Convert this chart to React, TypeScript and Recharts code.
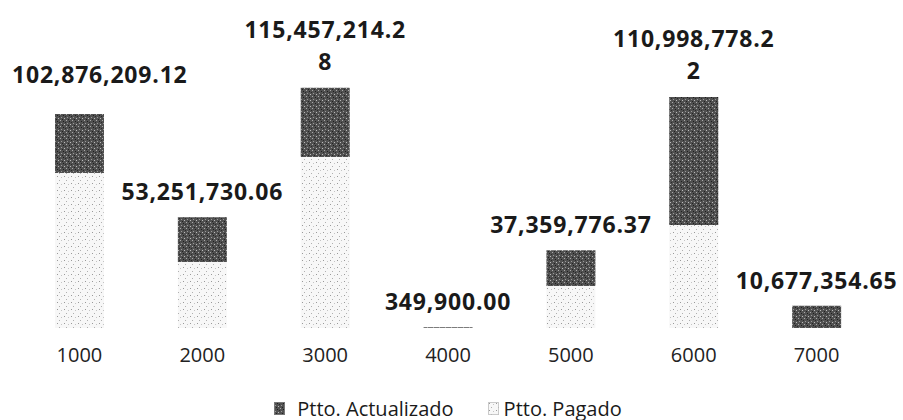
import React from 'react';
import { BarChart, Bar, XAxis, YAxis, Legend, LabelList } from 'recharts';

const categories = ['1000', '2000', '3000', '4000', '5000', '6000', '7000'];
const actualizado = [
  102876209.12, 53251730.06, 115457214.28, 349900.0, 37359776.37, 110998778.22, 10677354.65,
];
const pagado = [74500000, 31700000, 82200000, 0, 20200000, 49500000, 0];

const seriesNames = ['Ptto. Actualizado', 'Ptto. Pagado'];

const data = categories.map((name, i) => ({
  name,
  pagado: pagado[i],
  resto: actualizado[i] - pagado[i],
  actualizado: actualizado[i],
}));

const fmt = (v: number) =>
  v.toLocaleString('en-US', { minimumFractionDigits: 2, maximumFractionDigits: 2 });

const LABEL_FONT = 23;

const renderLabel = (props: any) => {
  const { x, y, width, value } = props;
  const text = fmt(Number(value));
  const cx = Number(x) + Number(width) / 2;
  const top = Number(y);
  const approxW = text.length * LABEL_FONT * 0.5;
  const common = {
    fontFamily: 'Open Sans',
    fontWeight: 700,
    fontSize: LABEL_FONT,
    letterSpacing: 0.8,
    fill: '#1a1a1a',
    dominantBaseline: 'central' as const,
  };

  // pushed right (and up) when it would run off the left edge, like excel does
  if (cx - approxW / 2 < 8) {
    return (
      <text x={12} y={top - 40} textAnchor="start" {...common}>
        {text}
      </text>
    );
  }
  if (text.length > 13) {
    return (
      <text x={cx} textAnchor="middle" {...common}>
        <tspan x={cx} y={top - 59}>{text.slice(0, 13)}</tspan>
        <tspan x={cx} y={top - 27}>{text.slice(13)}</tspan>
      </text>
    );
  }
  return (
    <text x={cx} y={top - 26} textAnchor="middle" {...common}>
      {text}
    </text>
  );
};

const renderLegend = () => (
  <div
    style={{
      display: 'flex',
      justifyContent: 'center',
      alignItems: 'center',
      height: 24,
      fontFamily: 'Open Sans',
      fontSize: 20,
      color: '#1a1a1a',
    }}
  >
    {seriesNames.map((n, i) => (
      <span key={n} style={{ display: 'flex', alignItems: 'center', marginRight: i === 0 ? 34 : 0 }}>
        <svg width={12} height={13} style={{ marginRight: i === 0 ? 11 : 4 }}>
          <rect
            x={0.5}
            y={0.5}
            width={10}
            height={12}
            fill={i === 0 ? 'url(#darkDots)' : 'url(#lightDots)'}
            stroke={i === 0 ? '#777' : '#999'}
            strokeDasharray={i === 0 ? undefined : '1 1'}
          />
        </svg>
        {n}
      </span>
    ))}
  </div>
);

export default function App() {
  return (
    <div style={{ position: 'absolute', left: 0, top: 0, background: '#fff' }}>
      <BarChart
        width={903}
        height={420}
        data={data}
        margin={{ top: 16, right: 25, left: 18, bottom: 0 }}
      >
        <defs>
          <pattern id="darkDots" width={6} height={6} patternUnits="userSpaceOnUse">
            <rect width={6} height={6} fill="#505050" />
            <rect x={0} y={0} width={1} height={1} fill="#aaa" />
            <rect x={3} y={1} width={1} height={1} fill="#1e1e1e" />
            <rect x={1} y={3} width={1} height={1} fill="#999" />
            <rect x={4} y={4} width={1} height={1} fill="#bbb" />
            <rect x={5} y={2} width={1} height={1} fill="#2a2a2a" />
            <rect x={2} y={5} width={1} height={1} fill="#222" />
          </pattern>
          <pattern id="lightDots" width={7} height={7} patternUnits="userSpaceOnUse">
            <rect width={7} height={7} fill="#f7f7f7" />
            <rect x={1} y={1} width={1} height={1} fill="#999" />
            <rect x={5} y={2} width={1} height={1} fill="#c4c4c4" />
            <rect x={3} y={5} width={1} height={1} fill="#b0b0b0" />
          </pattern>
        </defs>
        <XAxis
          dataKey="name"
          axisLine={false}
          tickLine={false}
          tickMargin={14}
          interval={0}
          height={68}
          tick={{ fill: '#222', fontSize: 20, fontFamily: 'Open Sans' }}
        />
        <YAxis hide domain={[0, 150000000]} />
        <Legend verticalAlign="bottom" content={renderLegend} />
        <Bar
          dataKey="pagado"
          name={seriesNames[1]}
          stackId="a"
          barSize={49}
          fill="url(#lightDots)"
          isAnimationActive={false}
        />
        <Bar
          dataKey="resto"
          name={seriesNames[0]}
          stackId="a"
          barSize={49}
          fill="url(#darkDots)"
          isAnimationActive={false}
        >
          <LabelList dataKey="actualizado" content={renderLabel} />
        </Bar>
      </BarChart>
    </div>
  );
}
